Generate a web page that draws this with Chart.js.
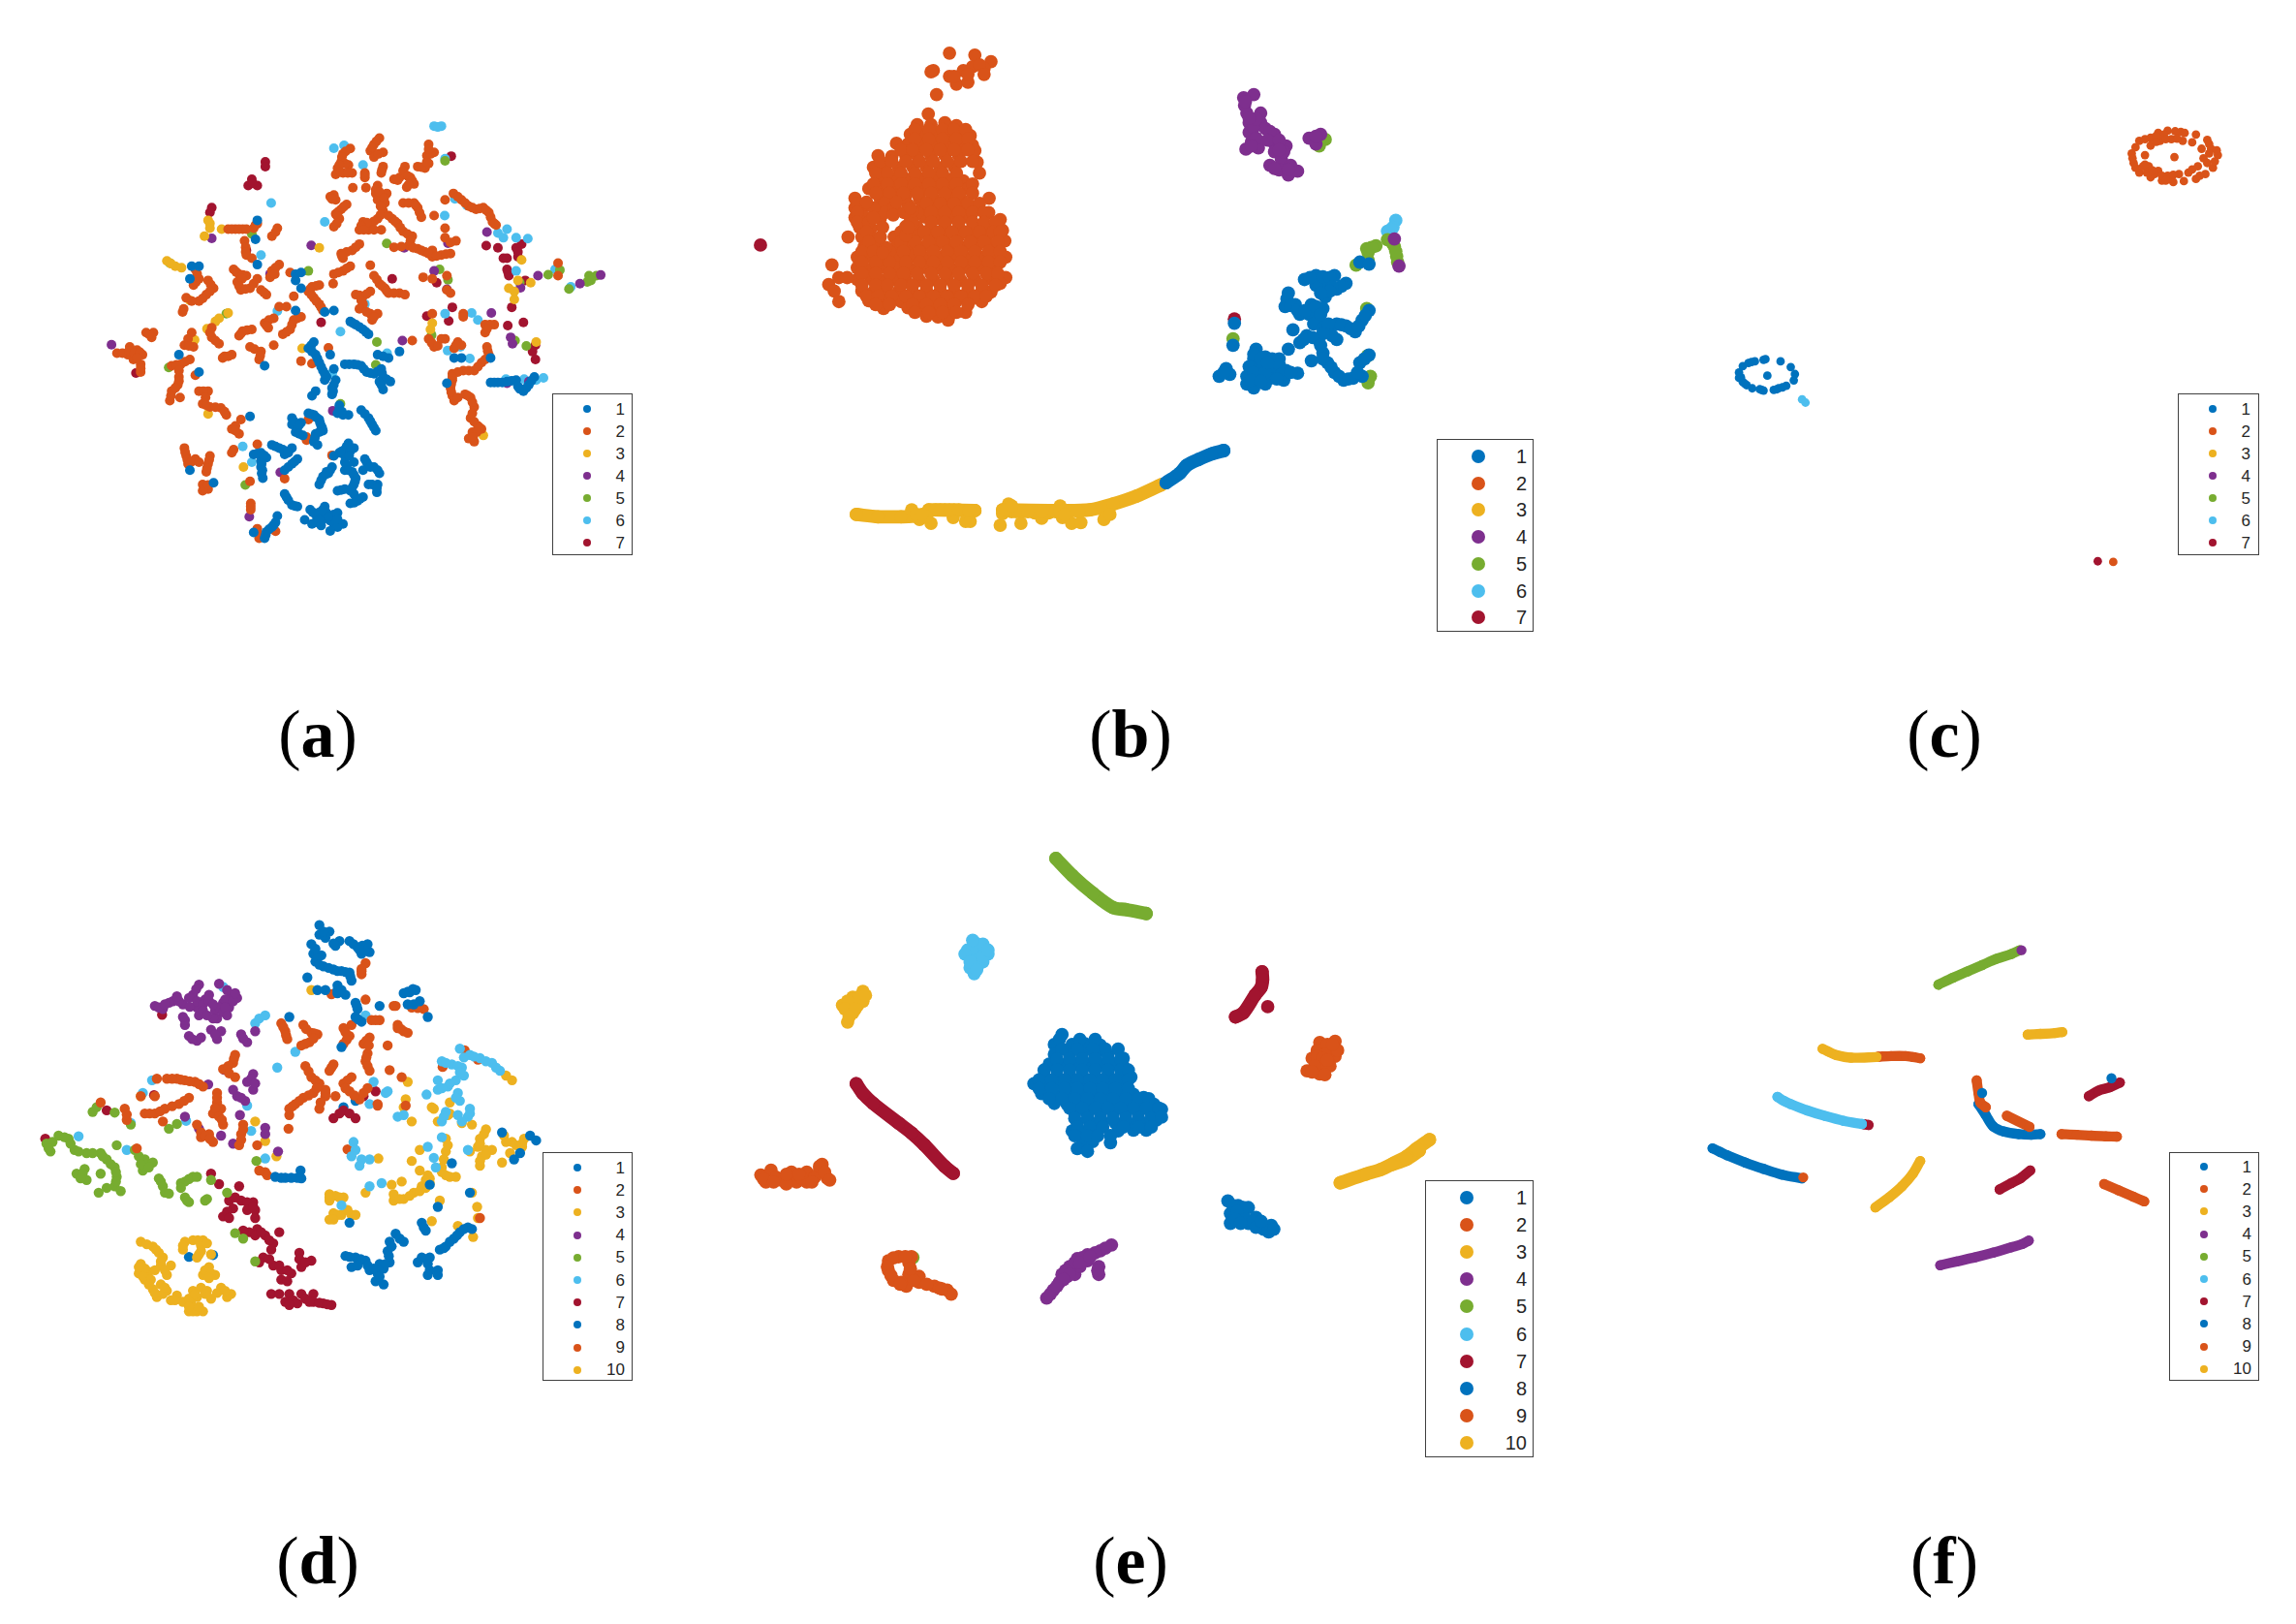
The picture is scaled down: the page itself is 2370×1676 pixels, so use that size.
<!DOCTYPE html>
<html lang="en">
<head>
<meta charset="UTF-8" />
<title>t-SNE panels</title>
<script src="https://cdn.jsdelivr.net/npm/chart.js@4/dist/chart.umd.min.js"></script>
<style>
  html, body { margin: 0; padding: 0; background: #fff; }
  #page { position: relative; width: 2370px; height: 1676px; overflow: hidden; }
  #page canvas { position: absolute; }
  .legend { position: absolute; box-sizing: border-box; border: 1.5px solid #404040; background: #fff; z-index: 2; }
  .legend i { position: absolute; border-radius: 50%; }
  .legend span { position: absolute; font-family: "Liberation Sans", Arial, sans-serif; color: #262626; line-height: 1; }
  .caption { position: absolute; transform: translateX(-50%); font-family: "Liberation Serif", serif; font-size: 70px; line-height: 1; color: #000; }
</style>
</head>
<body>
<div id="page"></div>
<script>
// series colours, they repeat from 8 on like the matlab default order
const colours = ['#0072BD', '#D95319', '#EDB120', '#7E2F8E', '#77AC30', '#4DBEEE', '#A2142F', '#0072BD', '#D95319', '#EDB120'];
const labels7 = ['1', '2', '3', '4', '5', '6', '7'];
const labels10 = ['1', '2', '3', '4', '5', '6', '7', '8', '9', '10'];
const captions = ['a', 'b', 'c', 'd', 'e', 'f'];

// panel a
const a1 = [[520,1085],[540,1095],[560,1105],[575,1095],[555,1115],[470,1115],[490,1110],[505,1125],[490,1135],[490,1155],[492,1175],[495,1190],[555,1165],[575,1145],[590,1130],[555,1240],[565,1260],[575,1275],[590,1280],[610,1322],[625,1290],[640,1305],[655,1295],[665,1280],[670,1300],[690,1305],[700,1300],[660,1320],[680,1325],[640,1330],[630,1335],[690,1335],[715,1335],[700,1345],[680,1357],[535,1310],[530,1330],[520,1345],[505,1360],[500,1380],[470,1362],[650,1210],[660,1185],[675,1175],[685,1155],[670,1170],[690,1120],[705,1110],[720,1100],[730,1080],[745,1095],[720,1120],[720,1140],[745,1140],[720,1165],[740,1170],[750,1190],[745,1210],[735,1230],[720,1225],[700,1230],[745,1240],[775,1130],[785,1150],[770,1165],[800,1155],[815,1175],[785,1210],[810,1210],[808,1235],[770,1250],[755,1262],[735,1270],[575,1000],[575,1020],[590,1030],[600,1015],[620,985],[635,990],[650,1005],[655,1025],[660,1040],[640,1050],[635,1075],[645,1085],[585,1045],[605,1055],[765,975],[785,1000],[795,1020],[805,1040],[705,960],[700,985],[715,990],[730,990],[630,930],[640,915],[685,925],[685,905],[695,880],[665,880],[690,845],[635,760],[620,780],[640,800],[650,825],[660,850],[670,870],[680,800],[690,660],[665,665],[720,830],[745,830],[765,835],[780,855],[800,860],[820,845],[825,870],[845,885],[815,885],[825,910],[810,800],[840,810],[870,790],[735,695],[750,705],[770,720],[785,735],[265,800],[320,855],[295,560],[300,520],[320,520],[500,835],[460,995],[360,1205],[295,1165],[480,375],[475,435],[480,515],[585,545],[600,540],[585,565],[600,590],[585,660],[1120,888],[1140,888],[1165,885],[1190,880],[1195,900],[1210,915],[1225,895],[1240,870],[1020,810],[1040,810],[1120,810],[1000,890],
  [530,1090],[550,1100],[565,1110],[480,1112],[498,1118],[492,1145],[494,1165],[565,1155],[582,1138],[560,1250],[583,1278],[632,1298],[648,1300],[660,1290],[675,1312],[650,1322],[700,1320],[655,1340],[525,1338],[512,1352],[503,1370],[655,1197],[668,1178],[680,1165],[712,1105],[725,1090],[735,1105],[732,1120],[725,1150],[730,1165],[745,1180],[748,1200],[740,1220],[710,1228],[780,1140],[790,1155],[810,1165],[795,1210],[808,1222],[762,1255],[745,1268],[580,1010],[595,1022],[628,988],[642,998],[652,1015],[658,1032],[650,1045],[638,1062],[595,1050],[775,987],[790,1010],[800,1030],[705,972],[712,980],[690,895],[688,915],[628,770],[630,790],[645,812],[655,838],[665,860],[732,830],[755,832],[772,845],[790,858],[810,853],[822,858],[835,878],[820,895],[825,805],[742,700],[760,712],[778,728],[1130,888],[1152,888],[1178,882],[1200,908],[1218,905],[1232,882]];
const a2 = [[815,115],[800,135],[790,155],[800,175],[825,160],[715,165],[735,148],[710,190],[730,200],[700,210],[695,230],[715,225],[740,225],[825,205],[820,225],[775,225],[775,240],[885,205],[885,230],[870,240],[855,245],[900,240],[910,260],[890,270],[920,205],[940,210],[950,195],[945,170],[965,160],[950,135],[742,272],[778,272],[810,265],[805,290],[820,300],[835,290],[690,295],[680,300],[695,310],[810,310],[830,320],[725,325],[710,340],[695,355],[705,370],[690,395],[880,320],[910,320],[920,335],[930,365],[965,360],[995,310],[1018,290],[1040,310],[1060,330],[1080,340],[1100,335],[1115,350],[1125,380],[1135,390],[825,345],[810,370],[790,385],[770,380],[760,405],[785,405],[820,405],[850,370],[865,385],[880,410],[905,425],[895,455],[855,460],[920,465],[940,475],[960,470],[960,490],[985,485],[1010,480],[1025,440],[995,430],[995,400],[760,450],[740,470],[710,480],[715,495],[790,517],[735,520],[715,535],[690,545],[688,575],[800,550],[815,575],[830,590],[840,605],[870,605],[885,610],[750,610],[770,615],[790,600],[770,640],[760,655],[790,670],[810,670],[795,690],[650,580],[630,585],[620,600],[635,620],[650,640],[660,660],[580,615],[570,540],[540,515],[520,535],[515,555],[535,400],[520,425],[400,403],[420,403],[440,403],[480,385],[470,400],[445,440],[450,485],[465,495],[415,530],[430,545],[450,550],[425,570],[435,595],[460,590],[480,560],[490,595],[505,610],[310,530],[320,560],[305,580],[345,565],[360,590],[340,610],[320,630],[285,620],[275,665],[175,730],[195,730],[190,745],[95,795],[130,775],[125,800],[150,785],[165,800],[140,815],[160,830],[160,855],[300,730],[280,770],[305,775],[355,715],[355,745],[375,765],[440,725],[430,740],[465,720],[500,700],[525,685],[510,715],[600,680],[580,690],[570,720],[550,735],[540,648],[560,648],[460,775],[490,790],[485,815],[525,770],[385,810],[410,800],[245,835],[270,830],[295,815],[265,870],[262,895],[245,915],[240,945],[268,935],[310,865],[320,915],[345,915],[330,955],[350,965],[380,968],[395,990],[435,1005],[410,1035],[430,1050],[280,1095],[285,1120],[290,1145],[310,1130],[350,1120],[345,1145],[340,1170],[330,1210],[345,1225],[330,1230],[415,1100],[480,1083],[460,1200],[462,1270],[462,1290],[480,1350],[485,1380],[530,1358],[555,1192],[675,778],[600,820],[630,828],[685,1118],[620,1005],[615,1060],[615,1070],[905,755],[950,750],[965,775],[995,750],[1030,760],[1020,780],[1040,770],[1110,775],[1115,800],[1095,825],[1075,850],[1045,850],[1015,860],[1015,880],[1010,905],[1015,930],[1020,945],[1050,925],[1065,935],[1075,965],[1065,1000],[1085,1025],[1095,1035],[1070,1045],[1075,1075],[1060,1065],[1105,705],[1130,705],[1105,730],[1045,670],[1045,680],[960,670],[935,555],[960,560],[1010,605],[1000,550],[1305,510],[1305,550],
  [807,125],[795,145],[812,165],[722,157],[712,175],[720,195],[705,200],[708,222],[728,225],[822,215],[775,232],[880,218],[893,235],[865,248],[905,250],[895,262],[930,207],[945,190],[955,165],[950,150],[805,278],[815,285],[828,305],[685,308],[818,330],[717,332],[702,348],[700,362],[698,385],[895,320],[915,328],[925,350],[1030,300],[1050,320],[1070,335],[1090,338],[1108,343],[1120,365],[1130,385],[818,358],[800,378],[780,382],[765,392],[772,405],[800,405],[840,360],[858,378],[872,398],[892,418],[900,440],[875,458],[908,462],[930,470],[950,480],[972,488],[998,482],[1010,445],[750,460],[725,475],[712,488],[725,527],[702,540],[808,562],[822,582],[835,598],[855,605],[760,612],[780,608],[765,628],[780,665],[800,680],[642,582],[625,592],[628,610],[642,630],[655,650],[530,525],[528,545],[530,412],[410,403],[430,403],[450,403],[475,390],[448,460],[448,475],[422,538],[440,548],[438,560],[430,583],[448,592],[470,575],[498,603],[315,545],[312,570],[352,578],[350,600],[330,622],[300,630],[278,655],[183,735],[110,795],[128,788],[142,795],[158,792],[150,810],[160,843],[290,750],[292,772],[350,730],[365,755],[435,733],[452,722],[512,690],[505,708],[590,685],[575,705],[560,728],[472,782],[488,803],[390,805],[400,805],[258,832],[282,822],[265,850],[265,883],[255,905],[243,930],[332,915],[338,935],[340,960],[365,966],[390,980],[420,1025],[420,1040],[282,1108],[288,1132],[300,1138],[320,1140],[348,1132],[342,1158],[335,1222],[345,1212],[410,1110],[462,1280],[482,1365],[958,762],[975,772],[985,750],[1025,770],[1112,788],[1105,815],[1085,838],[1060,850],[1030,855],[1015,870],[1012,893],[1012,918],[1030,935],[1058,930],[1070,950],[1070,985],[1075,1012],[1090,1030],[1082,1045],[1072,1060],[1118,705],[1110,718],[1000,595]];
const a3 = [[232,503],[255,520],[272,525],[350,385],[350,400],[335,425],[382,403],[650,462],[295,628],[375,685],[400,668],[342,718],[308,753],[603,780],[345,987],[442,1155],[1100,1055],[960,700],[955,720],[1170,590],[1185,600],[1185,625],[1195,565],[1230,572],[1245,760],[1205,500],[365,695],[345,375],[243,512]];
const a4 = [[80,768],[355,432],[628,454],[515,545],[883,462],[1003,447],[965,535],[1000,593],[1110,412],[1122,668],[1250,550],[1365,575],[1422,548],[1202,588],[1175,745],[1180,765],[687,977],[543,1172],[458,1312],[878,755],[1165,890],[1225,885]];
const a5 = [[240,510],[395,670],[465,418],[620,535],[835,448],[980,530],[1003,563],[808,760],[805,832],[708,955],[958,738],[1187,755],[1218,772],[1200,572],[1278,547],[1310,532],[1335,592],[1385,570],[1390,550],[1410,550],[1395,565],[447,1212],[237,840],[995,187]];
const a6 = [[965,77],[985,77],[975,80],[690,147],[718,138],[770,200],[995,180],[518,320],[665,380],[1022,307],[1055,328],[994,360],[490,485],[1140,415],[1155,430],[1165,403],[1190,430],[1222,433],[775,640],[535,662],[995,670],[1068,668],[1085,690],[708,727],[836,795],[1037,775],[1002,787],[1063,812],[686,857],[685,925],[440,1090],[465,1140],[1162,877],[1212,877],[1245,880],[1265,873],[1297,530],[1340,585],[1190,535]];
const a7 = [[502,190],[502,205],[465,245],[455,265],[480,265],[468,258],[355,335],[350,350],[450,470],[655,698],[850,560],[1012,172],[1108,455],[1140,462],[1155,495],[1165,495],[1165,530],[1170,550],[1190,462],[1205,450],[1195,490],[1215,565],[972,572],[1015,650],[945,678],[1005,693],[1178,650],[1167,708],[1210,698],[1243,770],[1235,790],[1243,815],[147,858],[1195,475],[1168,540]];

// panel b
const b1 = [[1260,655],[1285,645],[1325,645],[1350,665],[1310,665],[1330,680],[1305,700],[1285,670],[1225,690],[1218,725],[1240,720],[1250,745],[1275,720],[1300,730],[1270,745],[1290,760],[1280,770],[1300,780],[1330,770],[1350,775],[1370,790],[1385,760],[1400,735],[1330,810],[1310,790],[1290,810],[1265,800],[1250,818],[1235,785],[1225,835],[1300,845],[1275,865],[1310,870],[1325,895],[1345,915],[1365,910],[1380,870],[1400,850],[1385,905],[1108,768],[1105,825],[1090,885],[1075,905],[1098,900],[1155,835],[1150,860],[1175,855],[1205,860],[1140,880],[1165,880],[1195,885],[1220,890],[1245,897],[1135,905],[1160,905],[1185,910],[1215,915],[1135,925],[1150,935],[1175,925],[1380,610],[1400,615],
  [1272,650],[1300,648],[1315,650],[1340,672],[1320,675],[1315,685],[1295,690],[1222,705],[1230,722],[1245,735],[1262,735],[1285,725],[1295,745],[1312,770],[1340,772],[1360,782],[1378,775],[1392,748],[1320,800],[1300,795],[1278,805],[1258,810],[1295,825],[1300,860],[1318,882],[1335,905],[1355,912],[1375,895],[1390,860],[1150,848],[1165,860],[1190,860],[1205,875],[1150,895],[1175,895],[1210,900],[1230,895],[1145,915],[1165,918],[1200,912],[1180,870],[1085,895]];
const b2 = [[490,70],[545,75],[580,92],[455,115],[490,130],[520,115],[540,105],[565,110],[505,150],[530,145],[462,177],[444,227],[530,125],[555,100],[500,130],[565,125],[450,118],
  [420,255],[450,255],[480,250],[505,257],[405,280],[430,282],[460,280],[490,278],[520,280],[535,283],[400,305],[425,305],[455,307],[485,303],[515,305],[540,308],[375,303],[335,335],[365,337],[395,333],[420,335],[450,337],[480,333],[510,335],[545,322],[325,365],[350,365],[380,367],[410,363],[440,365],[470,367],[500,363],[550,352],[340,395],[370,393],[400,397],[430,395],[460,393],[490,397],[520,400],[555,380],[315,420],[345,422],[375,418],[405,420],[435,422],[465,418],[495,420],[530,420],[285,445],[340,447],[365,443],[395,440],[425,447],[455,445],[485,443],[515,447],[576,445],[285,470],[300,472],[345,468],[430,470],[460,472],[490,468],[520,470],[550,472],[285,495],[305,493],[340,497],[405,495],[435,493],[465,497],[495,495],[525,493],[575,482],[295,520],[320,522],[395,518],[420,520],[450,522],[480,518],[510,520],[540,522],[570,518],[600,500],[300,545],[320,547],[370,545],[420,543],[450,547],[480,545],[510,543],[540,547],[570,545],[605,528],[305,570],[330,572],[375,568],[400,570],[430,572],[460,568],[490,570],[520,572],[550,568],[580,570],[610,555],[290,597],[315,595],[345,599],[380,597],[410,595],[440,599],[470,597],[500,595],[530,599],[560,597],[590,595],[612,597],[290,625],[320,627],[345,623],[375,625],[405,627],[435,623],[465,625],[495,627],[525,623],[555,625],[585,627],[290,655],[320,653],[345,657],[370,655],[395,653],[425,657],[455,655],[485,653],[515,657],[545,655],[575,653],[612,650],[600,665],[300,685],[325,687],[350,683],[380,685],[410,687],[440,683],[470,685],[500,687],[530,683],[560,685],[580,687],[315,710],[345,708],[385,712],[415,710],[445,708],[475,712],[505,710],[535,708],[560,712],[347,730],[400,728],[430,732],[460,730],[490,728],[525,740],[440,750],[465,752],[490,748],[487,760],[270,545],[235,617],[228,668],[250,650],[268,650],[240,685],[250,712],
  [415,267],[445,267],[475,267],[500,267],[525,267],[415,292],[445,292],[475,292],[505,292],[530,292],[385,320],[410,320],[440,320],[470,320],[500,320],[530,320],[340,350],[365,350],[395,350],[425,350],[455,350],[485,350],[515,350],[540,350],[330,380],[355,380],[385,380],[415,380],[445,380],[475,380],[505,380],[325,408],[355,408],[385,408],[415,408],[445,408],[475,408],[505,408],[540,408],[330,432],[360,432],[390,432],[420,432],[450,432],[480,432],[510,432],[540,432],[290,458],[350,458],[440,458],[470,458],[500,458],[530,458],[555,458],[290,482],[350,482],[420,482],[450,482],[480,482],[510,482],[540,482],[565,482],[290,507],[315,507],[410,507],[450,507],[480,507],[510,507],[540,507],[565,507],[590,507],[310,532],[385,532],[435,532],[465,532],[495,532],[525,532],[555,532],[585,532],[600,532],[315,558],[385,558],[415,558],[445,558],[475,558],[505,558],[535,558],[565,558],[595,558],[300,583],[325,583],[360,583],[390,583],[425,583],[455,583],[485,583],[515,583],[545,583],[575,583],[600,583],[300,610],[330,610],[360,610],[395,610],[425,610],[455,610],[485,610],[515,610],[545,610],[575,610],[600,610],[300,640],[330,640],[360,640],[390,640],[420,640],[450,640],[480,640],[510,640],[540,640],[570,640],[595,640],[300,670],[330,670],[355,670],[385,670],[410,670],[440,670],[470,670],[500,670],[530,670],[560,670],[590,670],[310,698],[335,698],[365,698],[395,698],[425,698],[455,698],[485,698],[515,698],[545,698],[570,698],[330,720],[360,720],[410,720],[440,720],[470,720],[500,720],[530,720],[415,740],[445,740],[475,740],[505,740],
  [370,468],[400,462],[375,455],[410,478],[368,488],[392,482],[405,470],[345,520],[352,572],[340,545],[325,470],[325,495],[310,455],[345,585],[395,540],[400,520]];
const b3 = [[408,1250],[425,1275],[450,1285],[445,1255],[460,1250],[480,1250],[500,1250],[520,1252],[545,1252],[498,1270],[525,1280],[535,1280],[440,1268],[470,1250],[490,1250],[510,1250],[532,1252],[418,1262],[430,1262],[600,1290],[605,1260],[618,1235],[625,1255],[645,1285],[650,1255],[675,1258],[690,1272],[705,1258],[730,1240],[735,1270],[750,1255],[755,1285],[775,1283],[770,1255],[825,1275],[838,1262],[720,1255],[690,1255],[635,1255],[660,1255],[612,1250],[625,1240],[730,1255],[740,1262]];
const b4 = [[1150,177],[1128,185],[1130,205],[1135,225],[1165,225],[1140,250],[1165,250],[1140,275],[1175,265],[1145,300],[1133,318],[1160,315],[1195,280],[1195,305],[1220,310],[1195,325],[1210,345],[1185,360],[1205,372],[1225,385],[1245,375],[1230,360],[1270,290],[1295,280],[1285,305],[1455,550],[1465,620],[1150,262],[1155,290],[1155,240],[1185,272],[1180,295],[1205,295],[1215,325],[1205,320],[1225,370],[1195,368],[1140,238],[1285,285],[1132,195],[1145,310]];
const b5 = [[1305,293],[1292,310],[1395,730],[1105,808],[1397,852],[1403,905],[1398,922],[1372,618],[1398,605],[1398,585],[1415,568],[1395,575],[1440,552],[1455,570],[1460,595],[1462,610],[1450,560],[1458,582],[1405,572]];
const b6 = [[1458,502],[1452,520],[1440,530],[1448,525]];
const b7 = [[80,566],[1108,757]];
// the thin runs of panel b are so tight they read as a solid stroke
const b1Strand = [[960,1180],[990,1155],[1005,1135],[1030,1120],[1060,1105],[1085,1097]];
const b3Strand = [[288,1262],[335,1268],[385,1268],[420,1266],null,[445,1250],[545,1252],null,[605,1250],[720,1252],[795,1250],[845,1235],[895,1215],[950,1185]];

// panel c
const c1 = [[135,870],[130,855],[140,835],[155,825],[172,820],[195,815],[240,820],[267,838],[278,860],[275,880],[255,897],[235,905],[222,910],[195,912],[185,908],[165,905],[150,895],[140,885],[205,865],[163,822],[190,910],[230,908],[245,902],[145,890],[200,813],[130,872]];
const c2 = [[1190,125],[1220,115],[1240,100],[1265,93],[1300,97],[1340,105],[1370,122],[1380,150],[1398,170],[1385,210],[1365,230],[1340,245],[1308,252],[1280,255],[1250,250],[1220,240],[1190,225],[1175,195],[1170,165],[1180,145],[1205,170],[1220,140],[1245,125],[1275,120],[1305,125],[1330,130],[1355,150],[1360,180],[1345,205],[1320,225],[1295,230],[1265,235],[1240,220],[1215,205],[1200,205],[1230,230],[1255,105],[1285,95],[1310,100],[1205,120],[1375,135],[1390,190],[1370,195],[1350,235],[1180,210],[1210,225],[1270,245],[1235,110],[1260,120],[1330,215],[1283,176],[1121,1452],[1250,235],[1225,218],[1375,165],[1395,155],[1235,128],[1290,118],[1205,200],[1172,180],[1280,232],[1260,250]];
const c3 = [];
const c4 = [];
const c5 = [];
const c6 = [[297,940],[306,950]];
const c7 = [[1080,1450]];

// panel d
const d1 = [[735,60],[760,80],[735,90],[750,100],[785,110],[775,125],[715,120],[720,150],[740,155],[725,175],[745,190],[810,110],[830,130],[855,120],[840,150],[860,145],[770,200],[790,205],[810,210],[815,235],[705,225],[780,250],[780,275],[800,280],[730,265],[750,265],[825,305],[830,325],[825,350],[840,365],[885,315],[945,275],[975,265],[955,270],[985,300],[955,310],[1005,350],[660,350],[790,445],
  [748,90],[725,135],[730,165],[735,185],[758,195],[780,205],[800,208],[812,222],[820,120],[842,125],[848,140],[835,138],[770,118],[780,265],[790,265],[828,315],[832,358],[960,272],[968,262],[970,310],[745,80]];
const d2 = [[850,180],[840,215],[765,278],[850,295],[920,315],[965,320],[995,325],[885,360],[865,360],[930,375],[945,395],[815,375],[795,385],[810,410],[795,435],[860,415],[845,435],[905,440],[855,465],[850,490],[860,520],[910,518],[940,540],[640,370],[650,395],[655,420],[695,375],[715,400],[730,405],[710,430],[690,440],[525,470],[520,495],[495,515],[525,540],[380,545],[400,550],[425,555],[445,570],[330,545],[355,545],[480,590],[480,620],[470,655],[490,640],[495,690],[410,605],[385,625],[350,640],[325,655],[300,655],[345,680],[250,640],[255,675],[190,620],[325,600],[290,600],[430,690],[440,730],[460,720],[470,745],[540,720],[535,755],[580,755],[545,690],[658,703],[660,660],[700,505],[715,540],[735,560],[720,590],[695,605],[675,625],[660,640],[735,640],[750,600],[750,580],[770,500],[760,520],[775,600],[815,540],[795,560],[810,585],[835,610],[855,575],[880,625],[280,765],[600,840],[585,835],
  [645,382],[652,408],[702,388],[722,402],[720,418],[700,435],[522,482],[508,505],[510,528],[390,548],[412,553],[435,562],[368,545],[480,605],[475,638],[485,665],[492,675],[398,615],[368,632],[338,648],[312,655],[255,658],[440,715],[450,725],[462,735],[540,738],[545,705],[708,522],[725,550],[728,575],[708,598],[685,615],[668,632],[738,620],[750,590],[765,510],[805,550],[800,575],[822,598],[845,590],[875,360],[930,385],[938,388],[955,400],[800,398],[803,422],[852,425],[858,440],[852,478],[855,505],[925,315],[980,322],[840,205],[840,198]];
const d3 = [[290,1060],[320,1075],[335,1095],[345,1110],[290,1130],[285,1160],[310,1155],[340,1135],[365,1135],[355,1165],[320,1210],[330,1235],[355,1215],[365,1245],[395,1250],[420,1215],[430,1235],[440,1205],[465,1240],[490,1205],[515,1225],[505,1235],[410,1280],[430,1280],[445,1280],[400,1060],[395,1085],[420,1055],[445,1055],[440,1090],[430,1110],[465,1100],[460,1140],[445,1165],[475,1165],[300,1180],[340,1195],[380,1230],[415,1255],[455,1215],
  [305,1068],[328,1085],[340,1122],[300,1145],[295,1170],[325,1150],[350,1150],[325,1222],[345,1225],[375,1245],[410,1240],[425,1225],[450,1225],[480,1222],[500,1215],[420,1280],[410,1265],[435,1265],[395,1072],[432,1055],[440,1072],[455,1065],[435,1100],[450,1150],[465,1160],[460,1175],[350,1205],[315,1180],[310,1195],[285,1140]];
const d4 = [[435,248],[485,245],[420,280],[370,300],[325,315],[345,325],[395,310],[430,320],[435,345],[450,295],[475,330],[495,305],[515,280],[530,290],[510,320],[480,355],[400,375],[410,410],[430,425],[465,390],[490,395],[480,420],[540,405],[555,430],[575,395],[570,530],[555,555],[570,580],[530,600],[550,615],[498,517],[458,563],[520,580],[537,660],[400,665],[435,703],[490,725],[520,750],[600,700],[600,720],[632,775],
  [428,262],[410,290],[385,300],[360,305],[335,320],[412,318],[430,300],[445,310],[460,300],[485,320],[500,295],[520,300],[495,335],[470,355],[400,360],[418,420],[475,405],[545,418],[565,545],[575,560],[540,605],[500,320],[380,285],[350,310],[460,280],[505,265],[525,275],[470,310],[445,330],[455,345],[505,345],[440,415],[395,350]];
const d5 = [[85,725],[55,750],[65,775],[110,735],[125,770],[155,780],[190,780],[205,800],[225,825],[230,855],[225,885],[185,905],[150,830],[130,845],[155,865],[190,845],[240,900],[230,755],[275,770],[300,800],[320,810],[295,835],[340,870],[350,905],[390,875],[420,855],[400,920],[410,935],[455,925],[465,865],[578,805],[170,650],[225,652],[360,703],[380,688],[505,905],[525,1033],[545,1050],[575,1122],[180,635],[265,690],
  [70,745],[60,765],[100,730],[115,750],[135,775],[170,780],[195,790],[215,815],[228,840],[228,870],[205,890],[145,845],[140,860],[285,790],[290,815],[310,825],[335,860],[345,885],[360,908],[400,870],[410,862],[390,890],[430,855],[405,930],[450,930]];
const d6 = [[135,727],[255,770],[495,255],[600,345],[575,370],[585,355],[630,510],[675,460],[318,550],[295,590],[265,685],[403,678],[555,630],[565,710],[850,345],[600,797],[820,745],[825,770],[815,790],[840,800],[835,820],[860,800],[860,885],[890,875],[790,945],[870,555],[900,590],[860,625],[930,665],[945,660],[1085,450],[1110,470],[1135,480],[1165,495],[1185,520],[1040,490],[1065,500],[1090,510],[1095,535],[1075,550],[1030,550],[1030,580],[1055,570],[1002,595],[1080,590],[1085,615],[1110,640],[1105,665],[1080,660],[1050,650],[1040,730],[1005,760],[1020,795],[1025,825],[1105,770],[1040,680],
  [1095,478],[1120,475],[1150,490],[1175,510],[1050,495],[1080,505],[1085,525],[1060,560],[1040,575],[1075,605],[1110,655],[1090,680],[1045,665],[905,585]];
const d7 = [[52,735],[205,645],[343,343],[323,597],[465,845],[485,878],[535,885],[510,930],[540,930],[570,935],[495,980],[520,955],[575,960],[580,1020],[560,1030],[600,1040],[635,1030],[620,1065],[595,1110],[585,1125],[620,1135],[640,1150],[665,1160],[640,1180],[685,1095],[715,1120],[690,1140],[615,1225],[660,1225],[650,1250],[690,1225],[720,1225],[720,1250],[745,1255],[765,1260],[770,670],[795,645],[825,670],[875,585],[845,600],
  [525,920],[555,935],[505,965],[555,960],[510,985],[545,1025],[575,1040],[590,1030],[610,1055],[615,1085],[610,1115],[635,1135],[655,1150],[655,1185],[685,1115],[700,1125],[635,1225],[670,1245],[700,1240],[680,1255],[710,1250],[660,1260],[735,1253],[755,1258],[575,985],[570,950],[785,655],[810,655]];
const d8 = [[1190,715],[1260,725],[1275,740],[1220,800],[1235,780],[1065,812],[625,855],[650,858],[680,858],[688,835],[690,860],[410,1108],[470,1102],[810,1000],[800,1105],[825,1110],[850,1120],[815,1140],[860,1150],[880,1160],[875,1185],[895,1195],[885,1130],[910,1125],[905,1090],[910,1060],[925,1035],[945,1060],[990,1110],[980,1125],[1010,1110],[1010,1150],[1030,1150],[1035,1085],[1050,1075],[1070,1050],[1085,1030],[1105,1015],[990,1000],[1000,1025],[1110,905],[1030,950],[825,615],[795,635],[1010,880],
  [810,1108],[838,1115],[830,1135],[855,1135],[870,1145],[885,1170],[895,1145],[900,1130],[908,1105],[915,1075],[935,1050],[1000,1115],[1005,1130],[1030,1165],[1005,1165],[1045,1080],[1060,1060],[1078,1040],[1095,1020],[1115,1020],[995,1015],[665,858],[640,858]];
const d9 = [[1130,485],[1097,455],[1042,508],[805,768],[1135,985],[605,850],[880,630],[950,630]];
const d10 = [[1150,705],[1135,735],[1130,760],[1165,770],[1140,790],[1135,820],[1195,725],[1215,745],[1210,780],[1245,735],[1240,760],[1190,810],[1110,775],[1050,735],[1050,775],[1045,800],[1050,850],[1075,855],[985,770],[965,805],[985,835],[1005,850],[1010,875],[990,885],[970,905],[945,925],[920,930],[920,910],[940,870],[915,880],[850,905],[760,910],[760,930],[795,920],[770,970],[760,990],[815,975],[825,975],[790,975],[1035,930],[1115,905],[1128,950],[1130,985],[1080,1010],[1015,995],[1118,1045],[1030,680],[1015,635],[1060,620],[1055,660],[1090,685],[1115,690],[965,680],[945,635],[950,610],[715,265],[955,555],[1215,550],[1200,535],[628,790],[600,742],[575,680],[882,797],[290,600],
  [1145,720],[1135,750],[1150,770],[1150,785],[1135,805],[1200,745],[1225,755],[1240,750],[1055,755],[1040,825],[1060,855],[1040,840],[1010,860],[1000,865],[985,900],[960,915],[935,925],[775,915],[785,920],[760,920],[780,975],[770,990],[805,960],[1000,890],[1020,640],[1060,655]];

// panel e
const e1 = [[625,495],[610,520],[645,520],[670,518],[700,522],[610,545],[640,547],[665,543],[690,545],[715,547],[745,555],[600,570],[625,572],[650,568],[675,570],[700,572],[725,568],[745,575],[590,600],[615,602],[640,598],[665,600],[690,602],[715,598],[740,600],[760,603],[570,620],[595,622],[620,618],[645,620],[670,622],[695,618],[720,620],[745,622],[585,645],[610,647],[635,643],[660,645],[685,647],[710,643],[740,645],[765,647],[785,655],[610,670],[635,672],[660,668],[685,670],[710,672],[735,668],[760,670],[785,672],[805,672],[650,695],[675,697],[700,693],[725,695],[750,697],[775,693],[800,695],[820,685],[655,720],[680,722],[705,718],[730,720],[755,722],[780,718],[810,712],[645,740],[670,742],[695,738],[735,740],[765,738],[790,738],[665,765],[685,767],[720,770],[655,785],[675,792],
  [620,507],[660,507],[690,507],[625,532],[655,532],[685,532],[710,532],[735,532],[615,557],[640,557],[665,557],[690,557],[715,557],[740,557],[590,585],[615,585],[640,585],[665,585],[690,585],[715,585],[740,585],[755,585],[580,610],[605,610],[630,610],[655,610],[680,610],[705,610],[730,610],[755,610],[580,632],[605,632],[630,632],[655,632],[680,632],[705,632],[730,632],[755,632],[600,658],[625,658],[650,658],[675,658],[700,658],[725,658],[750,658],[775,658],[795,658],[640,682],[665,682],[690,682],[715,682],[740,682],[765,682],[790,682],[815,682],[650,708],[675,708],[700,708],[725,708],[750,708],[775,708],[800,708],[820,705],[655,730],[680,730],[705,730],[745,730],[775,730],[800,730],[650,752],[675,752],[695,752],[720,752]];
const e2 = [[35,852],[55,840],[45,870],[75,865],[95,845],[105,870],[125,845],[125,870],[155,825],[165,860],[150,840],[65,858],[90,862],[140,858],[40,862],[60,870],[85,875],[115,860],[135,870],[150,830],[160,845],[170,865],[85,850],[110,850],[330,1060],[305,1060],[285,1070],[285,1095],[295,1120],[320,1135],[325,1105],[345,1125],[375,1135],[400,1145],[408,1155],[345,1110],[325,1075],[360,1130],[385,1140],[310,1125],[295,1063],[283,1085],[290,1108],[308,1130],[335,1120],[390,1142],[318,1060],[328,1090]];
const e3 = [[235,385],[215,400],[195,420],[225,420],[215,440],[205,463],[235,410],[212,420],[225,400],[205,410],[200,430],[220,430],[208,450],[240,395]];
const e4 = [[722,1030],[700,1045],[675,1055],[655,1065],[640,1085],[625,1105],[650,1105],[620,1125],[608,1145],[595,1165],[697,1085],[697,1105],[675,1070],[635,1110],[660,1085],[710,1038],[602,1155],[690,1050],[665,1062],[650,1075],[632,1095],[640,1105],[628,1118],[615,1135],[660,1075],[680,1060],[695,1095]];
const e5 = [[333,1062]];
const e6 = [[455,262],[440,280],[465,285],[480,290],[450,305],[470,310],[445,325],[453,340],[460,270],[455,295],[450,275],[470,265],[435,290],[460,320],[470,295],[445,310],[458,330],[450,255],[480,280]];
const e7 = [[1028,424]];
const e8 = [[950,918],[970,930],[990,935],[955,950],[980,955],[1005,960],[955,975],[990,975],[1015,985],[1035,980],[1030,997],[960,930],[980,935],[968,945],[965,965],[985,965],[1000,970],[1020,990],[1005,985],[1040,990],[1015,970],[975,975]];
const e9 = [[1160,512],[1130,515],[1125,535],[1150,535],[1115,555],[1160,550],[1130,565],[1150,575],[1105,587],[1130,595],[1140,580],[1145,520],[1140,545],[1125,550],[1135,555],[1120,575],[1145,560],[1165,535],[1115,590],[1140,597],[1155,520]];
const e10 = [];
const e3Strand = [[1170,872],[1220,850],[1250,838],[1275,822],[1300,805],[1320,785],[1345,762],null,[1270,826],[1300,812],[1325,790]];
const e5Strand = [[613,47],[645,90],[685,135],[725,172],[750,177],[790,187]];
const e7Strand = [[222,620],[235,645],[255,670],[305,720],[330,745],[355,775],[395,830],[412,848],null,[1017,335],[1018,355],[1015,375],[1003,395],[980,440],[965,450]];

// panel f, every run here is a solid stroke, null splits the runs of one series
const f1 = [[800,530],null,[1155,483]];
const f2 = [[785,490],[790,530],[795,560],[810,575],null,[868,602],[930,637],null,[309,797]];
const f3 = [[362,390],[380,400],[400,410],[440,418],[510,416],null,[630,745],[610,785],[580,825],[545,860],[507,892]];
const f4 = [[908,78],null,[685,1075],[730,1063],[780,1050],[830,1035],[880,1018],[910,1008],[928,997]];
const f5 = [[680,187],[720,165],[760,145],[800,125],[840,105],[880,90],[903,78]];
const f6 = [[238,542],[256,555],[275,565],[320,585],[370,603],[420,618],[470,628]];
const f7 = [[1093,540],[1120,522],[1150,512],[1178,497],null,[476,629],[488,631],null,[848,835],[880,815],[905,800],[932,775]];
const f8 = [[790,565],[810,600],[830,635],[860,652],[900,660],[935,662],[960,660],null,[60,705],[80,716],[100,727],[150,750],[200,770],[250,788],[305,800]];
const f9 = [[515,415],[550,413],[590,413],[610,416],[630,420],null,[1018,660],[1060,662],[1100,665],[1140,667],[1170,668],null,[1135,818],[1175,838],[1215,858],[1245,873]];
const f10 = [[925,345],[960,343],[1000,340],[1020,337]];

// crop window of each panel on the page and the range of its hidden axes
const panels = [
  { left: 80, top: 100, width: 600, height: 480, maxX: 1568, maxY: 1440, radius: 5, series: [a1, a2, a3, a4, a5, a6, a7], strands: [] },
  { left: 740, top: 20, width: 760, height: 640, maxX: 1568, maxY: 1568, radius: 6.9, series: [b1, b2, b3, b4, b5, b6, b7],
    strands: [{ colour: 0, points: b1Strand }, { colour: 2, points: b3Strand }] },
  { left: 1740, top: 100, width: 620, height: 500, maxX: 1568, maxY: 1500, radius: 4.4, series: [c1, c2, c3, c4, c5, c6, c7], strands: [] },
  { left: 20, top: 930, width: 660, height: 520, maxX: 1568, maxY: 1560, radius: 5.2, series: [d1, d2, d3, d4, d5, d6, d7, d8, d9, d10], strands: [] },
  { left: 760, top: 860, width: 840, height: 650, maxX: 1568, maxY: 1568, radius: 6.9, series: [e1, e2, e3, e4, e5, e6, e7, e8, e9, e10],
    strands: [{ colour: 2, points: e3Strand }, { colour: 4, points: e5Strand }, { colour: 6, points: e7Strand }] },
  { left: 1740, top: 950, width: 600, height: 480, maxX: 1568, maxY: 1440, radius: 5.2, series: [],
    strands: [f1, f2, f3, f4, f5, f6, f7, f8, f9, f10].map(function (s, i) { return { colour: i, points: s }; }) }
];

const legends = [
  { left: 570, top: 406, width: 83, height: 167, markX: 35, markY: 15, step: 23, mark: 8, textRight: 7, font: 17, names: labels7 },
  { left: 1483, top: 453, width: 100, height: 199, markX: 42, markY: 17, step: 27.7, mark: 14, textRight: 6, font: 20, names: labels7 },
  { left: 2248, top: 406, width: 84, height: 167, markX: 35, markY: 15, step: 23, mark: 8, textRight: 8, font: 17, names: labels7 },
  { left: 560, top: 1189, width: 93, height: 236, markX: 35, markY: 15, step: 23.2, mark: 8, textRight: 7, font: 17, names: labels10 },
  { left: 1471, top: 1218, width: 112, height: 286, markX: 42, markY: 17, step: 28.1, mark: 14, textRight: 6, font: 20, names: labels10 },
  { left: 2239, top: 1189, width: 93, height: 236, markX: 35, markY: 14, step: 23.2, mark: 8, textRight: 7, font: 17, names: labels10 }
];

const captionX = [328, 1167, 2007, 328, 1167, 2007];
const captionY = [723, 723, 723, 1576, 1576, 1576];

const page = document.getElementById('page');

function toXY(points) {
  return points.map(function (pt) {
    return pt ? { x: pt[0], y: pt[1] } : { x: null, y: null }; // null makes a gap in a stroke
  });
}

panels.forEach(function (p) {
  const canvas = document.createElement('canvas');
  canvas.width = p.width;
  canvas.height = p.height;
  canvas.style.left = p.left + 'px';
  canvas.style.top = p.top + 'px';
  page.appendChild(canvas);

  const dots = p.series.map(function (points, i) {
    return {
      label: String(i + 1),
      data: toXY(points),
      backgroundColor: colours[i],
      borderWidth: 0,
      pointRadius: p.radius
    };
  });
  const strokes = p.strands.map(function (s) {
    return {
      label: String(s.colour + 1),
      data: toXY(s.points),
      showLine: true,
      tension: 0.3,
      borderColor: colours[s.colour],
      borderWidth: p.radius * 2,
      borderCapStyle: 'round',
      borderJoinStyle: 'round',
      backgroundColor: colours[s.colour],
      pointBorderWidth: 0,
      pointRadius: p.radius
    };
  });

  new Chart(canvas.getContext('2d'), {
    type: 'scatter',
    data: { datasets: dots.concat(strokes) },
    options: {
      responsive: false,
      animation: false,
      layout: { padding: 0 },
      clip: false,
      plugins: { legend: { display: false }, tooltip: { enabled: false } },
      scales: {
        x: { type: 'linear', display: false, min: 0, max: p.maxX },
        y: { type: 'linear', display: false, min: 0, max: p.maxY, reverse: true }
      }
    }
  });
});

// legend boxes, real text so they stay plain html
legends.forEach(function (l) {
  const box = document.createElement('div');
  box.className = 'legend';
  box.style.cssText = 'left:' + l.left + 'px;top:' + l.top + 'px;width:' + l.width + 'px;height:' + l.height + 'px;';
  l.names.forEach(function (name, i) {
    const y = l.markY + i * l.step;
    const dot = document.createElement('i');
    dot.style.cssText = 'left:' + (l.markX - l.mark / 2) + 'px;top:' + (y - l.mark / 2) + 'px;width:' + l.mark + 'px;height:' + l.mark + 'px;background:' + colours[i] + ';';
    const txt = document.createElement('span');
    txt.textContent = name;
    txt.style.cssText = 'right:' + l.textRight + 'px;top:' + (y - l.font / 2) + 'px;font-size:' + l.font + 'px;';
    box.appendChild(dot);
    box.appendChild(txt);
  });
  page.appendChild(box);
});

captions.forEach(function (c, i) {
  const div = document.createElement('div');
  div.className = 'caption';
  div.style.left = captionX[i] + 'px';
  div.style.top = captionY[i] + 'px';
  div.innerHTML = '(<b>' + c + '</b>)';
  page.appendChild(div);
});
</script>
</body>
</html>
